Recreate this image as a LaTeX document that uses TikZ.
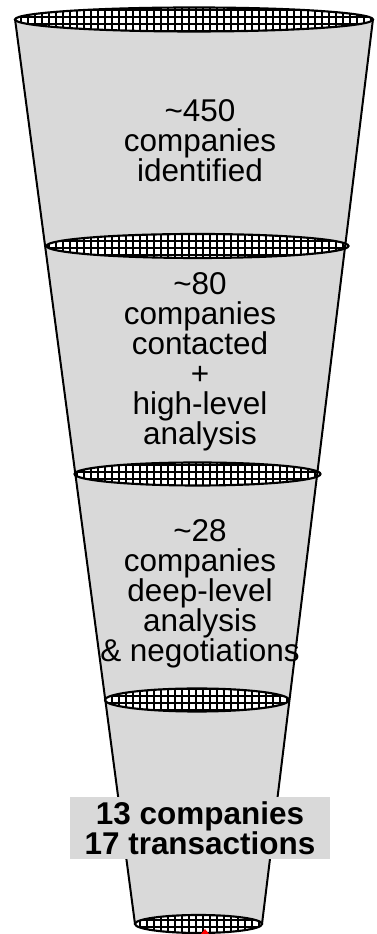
\documentclass[tikz,border=0pt]{standalone}
\usepackage{fontspec}
\setmainfont{Liberation Sans}
\usetikzlibrary{positioning}

\definecolor{funnelgray}{RGB}{217,217,217}

% hatched rim of the funnel: centre, x radius, y radius
\newcommand{\funnelrim}[3]{%
  \begin{scope}
    \clip (#1) ellipse ({#2} and {#3});
    \fill[white] (#1) ellipse ({#2} and {#3});
    \draw[hatch] (#1) ++(-#2,-#3) grid ++(2*#2,2*#3);
  \end{scope}
  \draw[rimline] (#1) ellipse ({#2} and {#3});
}

\begin{document}
\begin{tikzpicture}[x=0.75pt,y=0.75pt,
  hatch/.style={line width=1pt,step=5.25pt},
  rimline/.style={line width=1.6pt},
  side/.style={line width=1.5pt},
  stage/.style={align=center,inner sep=0pt,font=\fontsize{23.6pt}{22.5pt}\selectfont},
  result/.style={align=center,fill=funnelgray,inner sep=0pt,minimum width=195pt,minimum height=46.5pt,
    font=\bfseries\fontsize{23.6pt}{22.5pt}\selectfont}]
\useasboundingbox (0,0) rectangle (376,934);

% body of the funnel
\coordinate (tl) at (15,915);
\coordinate (tr) at (373,915);
\coordinate (bl) at (135,10);
\coordinate (br) at (262,10);
\fill[funnelgray] (tl) -- (tr) -- (br) -- (bl) -- cycle;

% rims
\coordinate (rim0) at (194,914.5);
\coordinate (rim1) at (197.5,688);
\coordinate (rim2) at (197.5,460);
\coordinate (rim3) at (197,234);
\coordinate (rim4) at (198.5,10);
\funnelrim{rim0}{179}{12}
\funnelrim{rim1}{151}{12}
\funnelrim{rim2}{123}{11.5}
\funnelrim{rim3}{92}{11.5}
\funnelrim{rim4}{63.5}{9}

\draw[side] (tl) -- (bl);
\draw[side] (tr) -- (br);

% stages (base = last line)
\node[stage,anchor=base] (identified) at (200,752.3) {\textasciitilde450\\companies\\identified};
\node[stage,anchor=base] (contacted) at (200,489) {\textasciitilde80\\companies\\contacted\\+\\high-level\\analysis};
\node[stage,anchor=base] (negotiated) at (200,272) {\textasciitilde28\\companies\\deep-level\\analysis\\\& negotiations};
\node[result] (closed) at (200,106) {13 companies\\17 transactions};

\fill[red] (201,0) -- (205,5) -- (209,0) -- cycle;
\end{tikzpicture}
\end{document}
